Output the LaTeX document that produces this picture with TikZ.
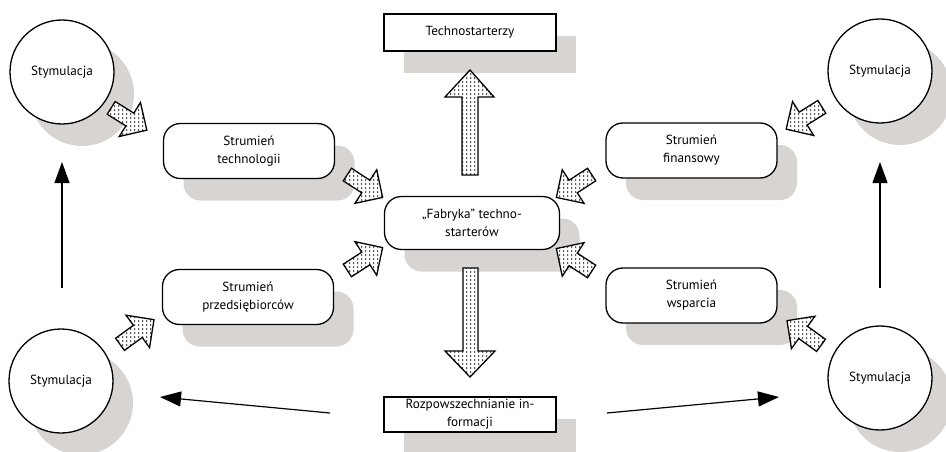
\documentclass[tikz,border=0pt]{standalone}
\usepackage{fontspec}
\setmainfont{PT Sans}
\usetikzlibrary{shadows,patterns.meta,arrows.meta}

\definecolor{shadowgray}{RGB}{215,212,209}

% short vertical stipple used inside the block arrows
\tikzdeclarepattern{
  name=stipple,
  type=colored,
  bottom left={(0pt,0pt)},
  top right={(4.2pt,4.4pt)},
  tile size={(4.2pt,4.4pt)},
  code={\fill[black] (1.6pt,0.9pt) rectangle (2.4pt,3.1pt);}
}

\tikzset{
  outline/.style={draw, line width=1.3pt, fill=white},
  dropshadow/.style={general shadow={fill=shadowgray, shadow xshift=20pt, shadow yshift=-22pt}},
  labeltext/.style={font=\fontsize{13.2}{18}\selectfont, align=center, inner sep=0pt},
  stimulus/.style={outline, dropshadow, labeltext, circle, minimum size=104pt},
  stream/.style={outline, dropshadow, labeltext, rectangle, rounded corners=17pt,
                 minimum width=171pt, minimum height=55pt},
  plainbox/.style={outline, dropshadow, labeltext, rectangle, minimum width=172pt},
  blockarrow/.style={draw, line width=1.3pt, fill=white, line join=miter,
                     postaction={pattern=stipple}},
  thinarrow/.style={line width=1.2pt, -{Triangle[length=21pt,width=15pt]}},
  pics/smallarrow/.style={code={
    \path[blockarrow] (-21,-7.5) -- (1,-7.5) -- (1,-20) -- (21,0) -- (1,20)
      -- (1,7.5) -- (-21,7.5) -- cycle;
  }}
}

\begin{document}
\begin{tikzpicture}[x=1pt,y=-1pt]
\useasboundingbox (0,0) rectangle (946,452);

% stimulation circles in the four corners
\node[stimulus] (stimTL) at (62,72)  {Stymulacja};
\node[stimulus] (stimTR) at (880,71) {Stymulacja};
\node[stimulus] (stimBL) at (61,381) {Stymulacja};
\node[stimulus] (stimBR) at (880,378) {Stymulacja};

% top and bottom boxes
\node[plainbox, minimum height=37pt] (techno) at (470,32.5) {\raisebox{-2pt}{Technostarterzy}};
\node[plainbox, minimum height=35pt] (info) at (470,414.5) {Rozpowszechnianie in-\\formacji};

% the four streams and the central factory
\node[stream] (tech)  at (249,151)   {Strumień\\technologii};
\node[stream] (entre) at (248,297)   {Strumień\\przedsiębiorców};
\node[stream] (fin)   at (691.5,150.5) {Strumień\\finansowy};
\node[stream] (supp)  at (691.5,295.5) {Strumień\\wsparcia};
\node[stream, minimum width=175pt, minimum height=53pt] (factory) at (472,223)
  {„Fabryka” techno-\\starterów};

% large vertical block arrows
\path[blockarrow] (462,175) -- (462,97) -- (445,97) -- (470,70) -- (494,97)
  -- (478,97) -- (478,175) -- cycle;
\path[blockarrow] (463,268) -- (463,351) -- (445,351) -- (470,377) -- (495,351)
  -- (478,351) -- (478,268) -- cycle;

% small block arrows
\pic[rotate=-32] at (129,119) {smallarrow};
\pic[rotate=-33] at (365,186) {smallarrow};
\pic[rotate=33]  at (365,259) {smallarrow};
\pic[rotate=213] at (574,186) {smallarrow};
\pic[rotate=147] at (574,260) {smallarrow};
\pic[rotate=212] at (804,118) {smallarrow};
\pic[rotate=36]  at (137,332) {smallarrow};
\pic[rotate=144] at (804,333) {smallarrow};

% thin arrows
\coordinate (upL0) at (62,288);
\coordinate (upL1) at (62,162);
\coordinate (upR0) at (880,288);
\coordinate (upR1) at (880,162);
\coordinate (outL0) at (330,413);
\coordinate (outL1) at (160,397);
\coordinate (outR0) at (607,413);
\coordinate (outR1) at (779,397);
\draw[thinarrow] (upL0) -- (upL1);
\draw[thinarrow] (upR0) -- (upR1);
\draw[thinarrow] (outL0) -- (outL1);
\draw[thinarrow] (outR0) -- (outR1);
\end{tikzpicture}
\end{document}
